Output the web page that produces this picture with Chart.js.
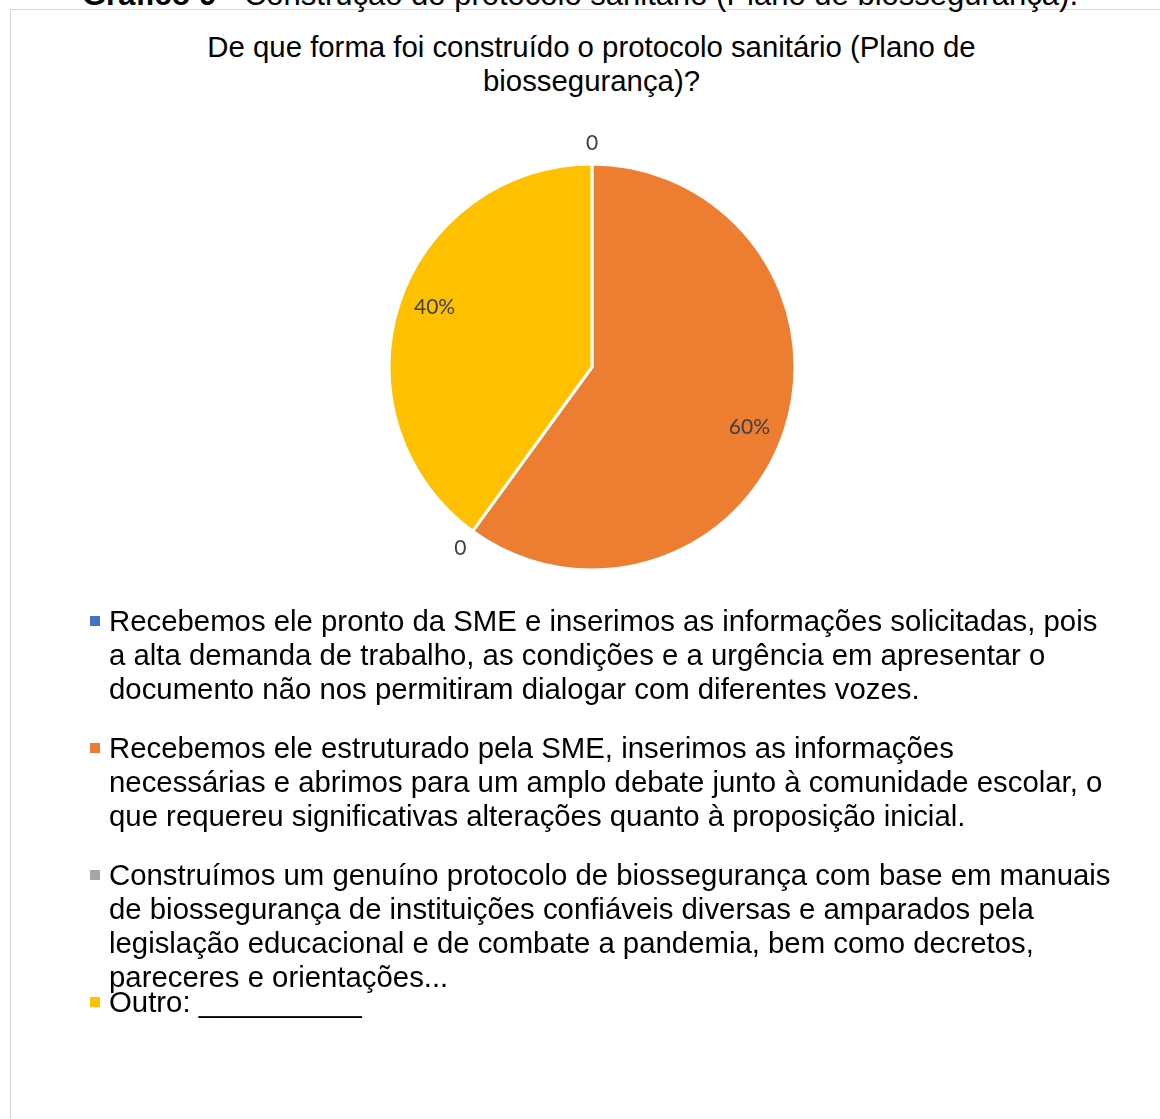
<!DOCTYPE html>
<html>
<head>
<meta charset="utf-8">
<script src="https://cdn.jsdelivr.net/npm/chart.js@4"></script>
<style>
  html, body { margin: 0; padding: 0; background: #fff; overflow: hidden; }
  body { width: 1160px; height: 1119px; position: relative; font-family: "Liberation Sans", Arial, sans-serif; }
  #frame { position: absolute; left: 10px; top: 9px; width: 1300px; height: 1300px; border: 1px solid #d9d9d9; box-sizing: border-box; }
  #caption { position: absolute; left: 0; width: 1160px; top: -22px; text-align: center; font-size: 31px; line-height: 34px; color: #000; white-space: nowrap; }
  #title { position: absolute; left: 0; width: 1183px; top: 30px; text-align: center; font-size: 29.35px; line-height: 34px; color: #000; }
  #chart { position: absolute; left: 0; top: 0; }
  #legend { position: absolute; left: 90px; top: 604px; }
  .item { position: relative; height: 127px; }
  .box { position: absolute; left: 0; top: 12px; width: 10px; height: 10px; }
  .txt { position: absolute; left: 19px; top: 0; width: 1008px; font-size: 29.35px; line-height: 34px; color: #000; }
</style>
</head>
<body>
<div id="frame"></div>
<div id="caption"><b>Gráfico 9</b> - Construção do protocolo sanitário (Plano de biossegurança).</div>
<div id="title">De que forma foi construído o protocolo sanitário (Plano de<br>biossegurança)?</div>
<canvas id="chart" width="1160" height="1119"></canvas>
<div id="legend"></div>
<script>
// categories (legend text) and shares in percent
const categories = [
  'Recebemos ele pronto da SME e inserimos as informações solicitadas, pois a alta demanda de trabalho, as condições e a urgência em apresentar o documento não nos permitiram dialogar com diferentes vozes.',
  'Recebemos ele estruturado pela SME, inserimos as informações necessárias e abrimos para um amplo debate junto à comunidade escolar, o que requereu significativas alterações quanto à proposição inicial.',
  'Construímos um genuíno protocolo de biossegurança com base em manuais de biossegurança de instituições confiáveis diversas e amparados pela legislação educacional e de combate a pandemia, bem como decretos, pareceres e orientações...',
  'Outro: __________'
];
const shares = [0, 60, 0, 40];
const colors = ['#4472C4', '#ED7D31', '#A5A5A5', '#FFC000'];

// value labels: inside for real slices, just outside for empty ones
const pieLabels = {
  id: 'pieLabels',
  afterDatasetsDraw(chart) {
    const ctx = chart.ctx;
    const meta = chart.getDatasetMeta(0);
    ctx.save();
    ctx.font = '21px Lato';
    ctx.fillStyle = '#404040';
    ctx.textAlign = 'center';
    ctx.textBaseline = 'middle';
    meta.data.forEach((arc, i) => {
      const v = shares[i];
      const { x, y, startAngle, endAngle, outerRadius } = arc.getProps(['x', 'y', 'startAngle', 'endAngle', 'outerRadius'], true);
      let mid = (startAngle + endAngle) / 2;
      if (v !== 0) mid += 0.05; // excel nudges these a little clockwise
      const dist = v === 0 ? outerRadius + 21 : outerRadius * 0.83;
      const text = v === 0 ? '0' : v + '%';
      ctx.fillText(text, x + Math.cos(mid) * dist, y + Math.sin(mid) * dist);
    });
    ctx.restore();
  }
};

const chart = new Chart(document.getElementById('chart'), {
  type: 'pie',
  data: {
    labels: categories,
    datasets: [{
      data: shares,
      backgroundColor: colors,
      borderColor: '#ffffff',
      borderWidth: 3,
      radius: 203
    }]
  },
  options: {
    responsive: false,
    animation: false,
    layout: { padding: { left: 24, right: 0, top: 0, bottom: 385 } },
    plugins: {
      legend: { display: false },
      tooltip: { enabled: false }
    }
  },
  plugins: [pieLabels]
});

// html legend so long entries can wrap
const legend = document.getElementById('legend');
categories.forEach((c, i) => {
  const item = document.createElement('div');
  item.className = 'item';
  item.innerHTML = '<div class="box" style="background:' + colors[i] + '"></div><div class="txt"></div>';
  item.querySelector('.txt').textContent = c;
  legend.appendChild(item);
});
</script>
</body>
</html>
